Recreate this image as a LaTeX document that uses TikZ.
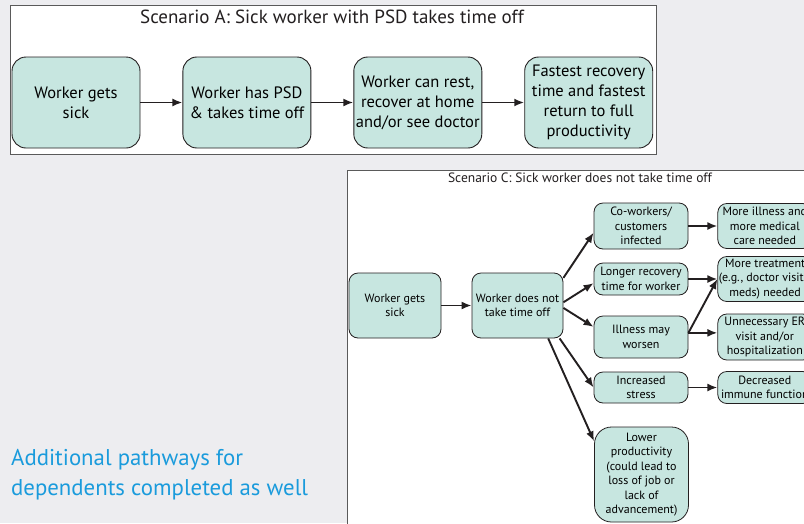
\documentclass[tikz,border=0pt]{standalone}
\usepackage{fontspec}
\setmainfont{PT Sans}
\usetikzlibrary{arrows.meta,positioning}
\definecolor{mint}{HTML}{C7E6E0}
\definecolor{ink}{HTML}{231F20}
\definecolor{paper}{HTML}{EDEDF0}
\definecolor{edge}{HTML}{5A5A5A}
\definecolor{note}{HTML}{1A9BDC}
\tikzset{
  abox/.style={draw=ink,fill=mint,rounded corners=14pt,line width=0.9pt,align=center,
    minimum width=128pt,minimum height=91pt,inner sep=1pt,font=\fontsize{16.5}{20}\selectfont},
  cbox/.style={draw=ink,fill=mint,rounded corners=9pt,line width=0.8pt,align=center,
    minimum width=94pt,inner sep=1pt,font=\fontsize{12}{14.5}\selectfont},
  arr/.style={-{Latex[length=10pt,width=8pt]},line width=1.9pt,draw=ink},
  panel/.style={draw=edge,fill=white,line width=0.8pt},
  paneltitle/.style={inner sep=0pt,text=ink}
}

\begin{document}
\begin{tikzpicture}[x=1pt,y=1pt,node distance=42pt]
 \clip (0,0) rectangle (804,-523);
 \fill[paper] (0,0) rectangle (804,-523);
 % scenario A
 \draw[panel] (10,-5) rectangle (656,-154);
 \node[paneltitle,font=\fontsize{19}{22}\selectfont] (tA) at (332,-17) {Scenario A:\ Sick worker with PSD takes time off};
 \node[abox] (a1) at (76,-102.5) {Worker gets\\sick};
 \node[abox,right=of a1] (a2) {Worker has PSD\\\& takes time off};
 \node[abox,right=of a2] (a3) {Worker can rest,\\recover at home\\and/or see doctor};
 \node[abox,right=of a3] (a4) {Fastest recovery\\time and fastest\\return to full\\productivity};
 \draw[arr] (a1)--(a2);
 \draw[arr] (a2)--(a3);
 \draw[arr] (a3)--(a4);
 % scenario C
 \draw[panel] (347,-170) rectangle (840,-560);
 \node[paneltitle,font=\fontsize{13.5}{16}\selectfont] (tC) at (580,-178) {Scenario C:\ Sick worker does not take time off};
 \node[cbox,minimum width=92pt,minimum height=65pt] (c1) at (395,-305.5) {Worker gets\\sick};
 \node[cbox,minimum width=91pt,minimum height=65pt] (c2) at (517.5,-305.5) {Worker does not\\take time off};
 \node[cbox,minimum height=46pt] (cw) at (641,-226) {Co-workers/\\customers\\infected};
 \node[cbox,minimum height=32pt] (lr) at (641,-279) {Longer recovery\\time for worker};
 \node[cbox,minimum height=42pt] (iw) at (641,-337) {Illness may\\worsen};
 \node[cbox,minimum height=31pt] (st) at (641,-387.5) {Increased\\stress};
 \node[cbox,minimum height=95pt,rounded corners=17pt] (lp) at (641.5,-474.5) {Lower\\productivity\\(could lead to\\loss of job or\\lack of\\advancement)};
 \node[cbox,minimum height=45pt,right=29pt of cw] (mi) {More illness and\\more medical\\care needed};
 \node[cbox,minimum height=45pt,right=29pt of lr] (mt) {More treatment\\(e.g., doctor visits,\\meds) needed};
 \node[cbox,minimum height=46pt,right=29pt of iw] (er) {Unnecessary ER\\visit and/or\\hospitalization};
 \node[cbox,minimum height=32pt,right=29pt of st] (di) {Decreased\\immune function};
 \draw[arr] (c1)--(c2);
 \draw[arr] (c2.31)--(cw.188);
 \draw[arr] (c2.4)--(lr.185);
 \draw[arr] (c2.-3)--(iw.168);
 \draw[arr] (c2.-38)--(st.west);
 \draw[arr] (c2.-47)--(lp.145);
 \draw[arr] (cw.east)--(cw.east-|mi.west);
 \draw[arr] (lr.east)--(lr.east-|mt.west);
 \draw[arr] (iw.5)--(mt.west);
 \draw[arr] (iw.5)--(iw.5-|er.west);
 \draw[arr] (st.east)--(st.east-|di.west);
 % note
 \node[anchor=north west,align=left,inner sep=0pt,text=note,font=\fontsize{22.8}{30}\selectfont] (add) at (11,-449) {Additional pathways for\\dependents completed as well};
\end{tikzpicture}
\end{document}
